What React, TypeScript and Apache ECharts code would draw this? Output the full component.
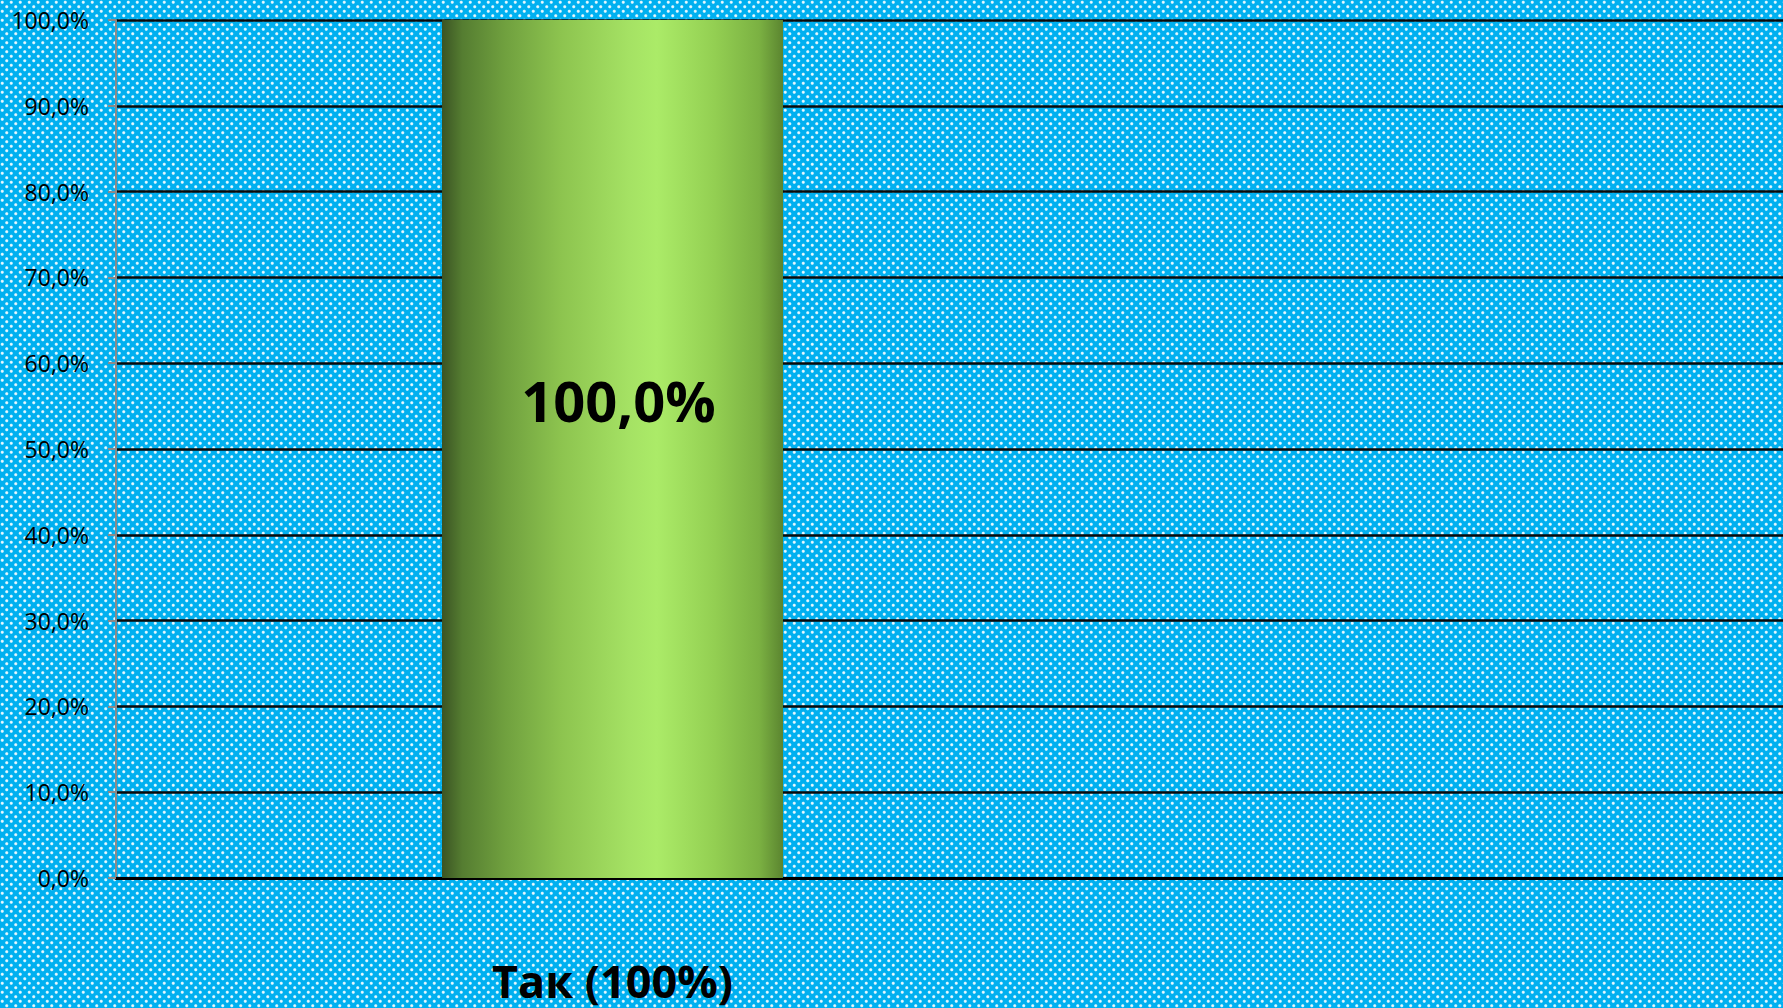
import React, { useEffect, useRef } from "react";
import * as echarts from "echarts";

const categories = ["Так (100%)", ""];
const values: (number | null)[] = [100, null];
const yMin = 0;
const yMax = 100;
const yStep = 10;

const fmt = (v: number) => v.toFixed(1).replace(".", ",") + "%";

function makeDots(): string {
  const c = document.createElement("canvas");
  const s = 9;
  c.width = s;
  c.height = s;
  const ctx = c.getContext("2d");
  if (!ctx) return "";
  const dot = (x: number, y: number) => {
    const g = ctx.createRadialGradient(x, y, 0, x, y, 2);
    g.addColorStop(0, "rgba(255,255,255,1)");
    g.addColorStop(0.55, "rgba(255,255,255,0.8)");
    g.addColorStop(1, "rgba(255,255,255,0)");
    ctx.fillStyle = g;
    ctx.fillRect(x - 2.5, y - 2.5, 5, 5);
  };
  dot(2.25, 2.25);
  dot(6.75, 6.75);
  dot(6.75 - 9, 6.75);
  dot(2.25 + 9, 2.25);
  dot(6.75, 6.75 - 9);
  dot(2.25, 2.25 + 9);
  return c.toDataURL();
}

export default function App() {
  const ref = useRef<HTMLDivElement>(null);
  useEffect(() => {
    document.body.style.margin = "0";
    if (!ref.current) return;
    const chart = echarts.init(ref.current, undefined, { renderer: "svg" });
    const dots = makeDots();
    chart.setOption({
      animation: false,
      backgroundColor: "#00B0F0",
      textStyle: { fontFamily: "Open Sans" },
      graphic: [
        {
          type: "rect",
          z: -100,
          silent: true,
          shape: { x: 0, y: 0, width: 1783, height: 1008 },
          style: { fill: { image: dots, repeat: "repeat" } as any },
        },
      ],
      grid: {
        left: 116,
        top: 20,
        bottom: 130,
        width: 1986,
        containLabel: false,
        outerBoundsMode: "none",
      } as any,
      xAxis: {
        type: "category",
        data: categories,
        axisLine: { show: true, lineStyle: { color: "#000", width: 3 } },
        axisTick: { show: false },
        axisLabel: {
          interval: 0,
          margin: 80,
          fontSize: 45,
          lineHeight: 45,
          fontWeight: "bold",
          color: "#000",
          fontFamily: "Open Sans",
        },
      },
      yAxis: {
        type: "value",
        min: yMin,
        max: yMax,
        interval: yStep,
        axisLine: { show: true, lineStyle: { color: "#8a8a8a", width: 2 } },
        axisTick: { show: true, length: 8, lineStyle: { color: "#8a8a8a", width: 2 } },
        axisLabel: {
          margin: 27,
          fontSize: 23,
          color: "#000",
          fontFamily: "Open Sans",
          formatter: (v: number) => fmt(v),
        },
        splitLine: {
          show: true,
          lineStyle: { color: "#0a0a0a", width: 2.5 },
        },
      },
      series: [
        {
          type: "bar",
          data: values,
          barWidth: 341,
          itemStyle: {
            color: new echarts.graphic.LinearGradient(0, 0, 1, 0, [
              { offset: 0, color: "#3b5424" },
              { offset: 0.06, color: "#557d31" },
              { offset: 0.18, color: "#6f9f3e" },
              { offset: 0.35, color: "#8dc44f" },
              { offset: 0.55, color: "#a5e264" },
              { offset: 0.63, color: "#abeb68" },
              { offset: 0.8, color: "#93cf52" },
              { offset: 0.93, color: "#7bb142" },
              { offset: 1, color: "#5b8530" },
            ]),
          },
          label: {
            show: true,
            position: ["50%", "44.3%"],
            align: "center",
            verticalAlign: "middle",
            offset: [6, 0],
            fontSize: 56,
            fontWeight: "bold",
            color: "#000",
            fontFamily: "Open Sans",
            formatter: (p: any) => fmt(p.value),
          },
        },
      ],
    });
    return () => chart.dispose();
  }, []);
  return <div ref={ref} style={{ width: 1783, height: 1008 }} />;
}
